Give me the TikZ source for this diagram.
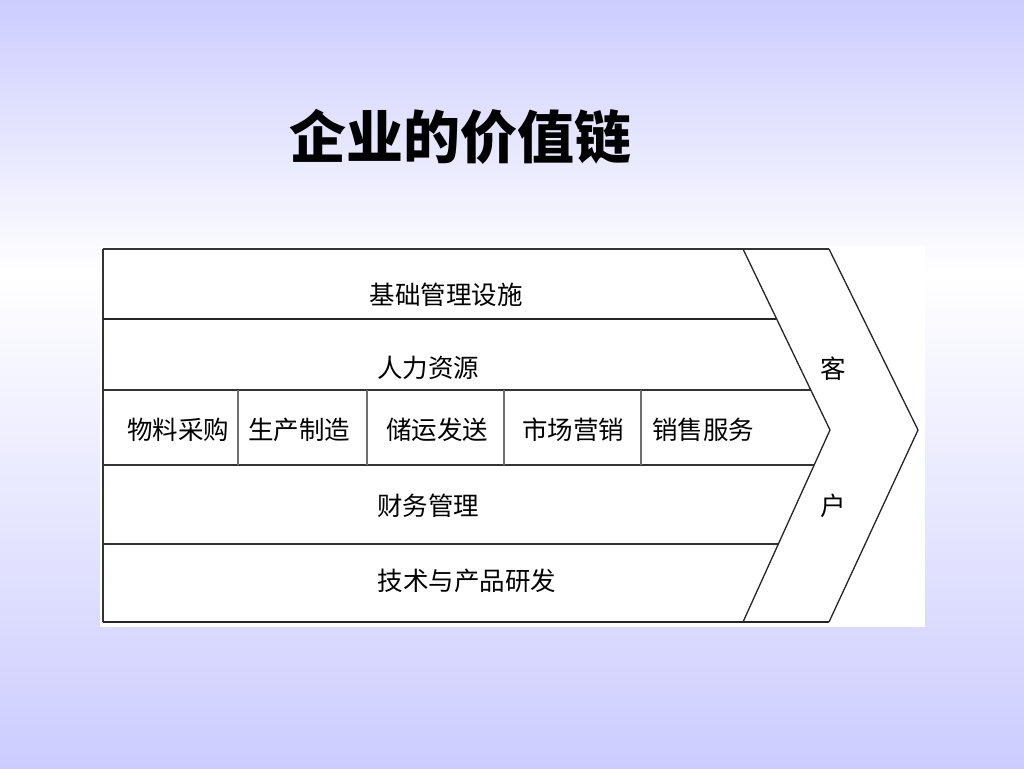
\documentclass[tikz,border=0pt]{standalone}
\usepackage{fontspec}
\newfontfamily\cjk{Noto Sans CJK SC}
\definecolor{bglav}{RGB}{204,204,255}
\definecolor{divgray}{RGB}{110,110,110}
\tikzset{
  lbl/.style={font=\cjk\fontsize{25.5}{28}\selectfont, inner sep=0pt},
  rowline/.style={line width=1.2pt, draw=black!80},
  boldline/.style={line width=2.6pt, draw=black!85},
  chev/.style={line width=1.3pt, draw=black!85, line join=miter}
}
\begin{document}
\begin{tikzpicture}[x=1pt,y=-1pt]
  \useasboundingbox (0pt,0pt) rectangle (1024pt,-768pt);
  % background, lavender to white and back
  \shade[top color=bglav, bottom color=white] (0pt,0pt) rectangle (1024pt,-275pt);
  \shade[top color=white, bottom color=bglav] (0pt,-275pt) rectangle (1024pt,-768pt);
  \fill[white] (100,246) rectangle (925,627);

  % title
  \node[font=\cjk\bfseries\fontsize{57}{62}\selectfont, inner sep=0pt] (title) at (460,137) {企业的价值链};

  % frame and rows
  \draw[rowline] (103,249) -- (829,249);
  \draw[rowline] (103,249) -- (103,622);
  \draw[boldline] (103,319) -- (777,319);
  \draw[rowline] (103,390) -- (811,390);
  \draw[rowline] (103,465) -- (814,465);
  \draw[rowline] (103,544) -- (778,544);
  \draw[boldline] (103,622) -- (829,622);

  % primary activity dividers
  \foreach \x in {238,367,504,641}
    \draw[line width=1.2pt, divgray] (\x,390) -- (\x,465);

  % customer chevron
  \draw[chev] (743,249) -- (830,430) -- (743,622);
  \draw[chev] (829,249) -- (918,430) -- (829,622);

  % support activities
  \node[lbl] (infra) at (446,295) {基础管理设施};
  \node[lbl] (hr) at (428,368) {人力资源};
  \node[lbl] (fin) at (428,506) {财务管理};
  \node[lbl] (tech) at (467,581) {技术与产品研发};

  % primary activities
  \foreach \name/\x [count=\i] in {物料采购/178,生产制造/299,储运发送/437,市场营销/573,销售服务/703}
    \node[lbl] (act\i) at (\x,430) {\name};

  \node[lbl] (cust1) at (833,369) {客};
  \node[lbl] (cust2) at (833,506) {户};
\end{tikzpicture}
\end{document}
